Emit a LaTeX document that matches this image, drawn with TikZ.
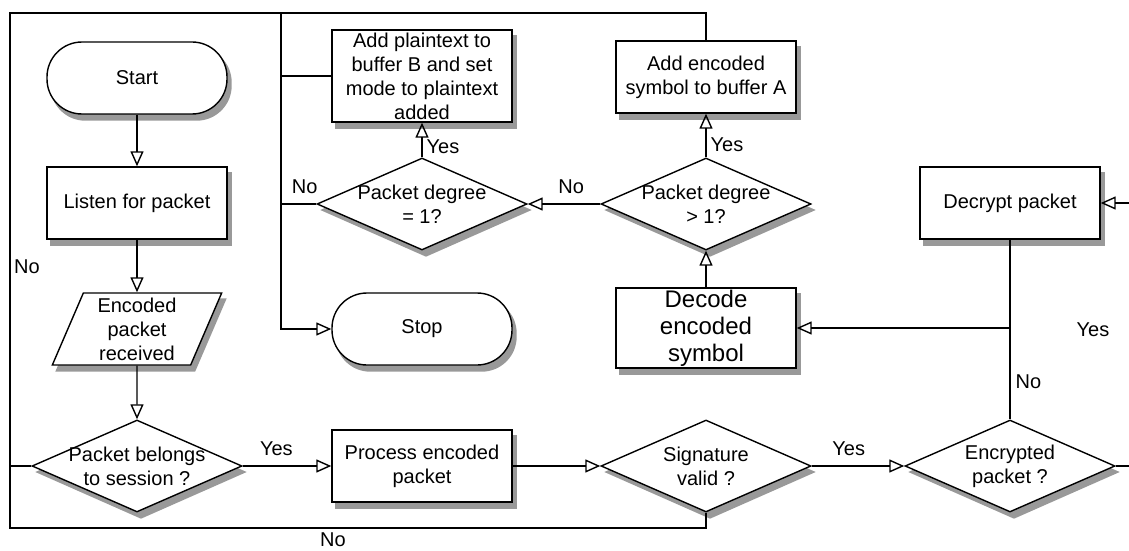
\documentclass[tikz,border=0pt]{standalone}
\usepackage{fontspec}
\setmainfont{Liberation Sans}
\usetikzlibrary{shapes.geometric,arrows.meta,backgrounds}

\begin{document}
\begin{tikzpicture}[x=0.5pt,y=-0.5pt,line width=0.7pt]
\tikzstyle{every node}+=[inner sep=0pt,font=\fontsize{10}{12}\selectfont]
\tikzstyle{box}=[draw,fill=white,minimum width=90pt,minimum height=36pt,align=center]
\tikzstyle{term}=[box,rounded corners=17.5pt]
\tikzstyle{decision}=[diamond,draw,fill=white,minimum width=105pt,minimum height=46pt]
\tikzstyle{io}=[trapezium,trapezium left angle=70,trapezium right angle=110,trapezium stretches=true,draw,fill=white,minimum width=85pt,minimum height=36pt,align=center]
\tikzstyle{arr}=[-{Triangle[open,length=7.5pt,width=6.5pt]}]
\tikzstyle{shadowfill}=[fill=black!40,draw=none]
\useasboundingbox (0,0) rectangle (1129,551);
\node[term] (start) at (137,78) {Start};
\node[box] (listen) at (137,203) {Listen for packet};
\node[io] (recv) at (137,329) {Encoded\\packet\\received};
\node[decision,label={[align=center]center:Packet belongs\\to session ?}] (belong) at (137,466) {};
\node[box] (process) at (422,466) {Process encoded\\packet};
\node[decision,label={[align=center]center:Signature\\valid ?}] (sigvalid) at (706,466) {};
\node[decision,label={[align=center]center:Encrypted\\packet ?}] (encrypted) at (1010,466) {};
\node[box] (decrypt) at (1010,203) {Decrypt packet};
\node[box,minimum height=40pt,font=\fontsize{12}{13.5}\selectfont] (decode) at (706,328) {Decode\\encoded\\symbol};
\node[decision,label={[align=center]center:Packet degree\\> 1?}] (deggt) at (706,204) {};
\node[decision,label={[align=center]center:Packet degree\\= 1?}] (degeq) at (422,204) {};
\node[box] (addenc) at (706,77) {Add encoded\\symbol to buffer A};
\node[box,minimum height=46pt] (addplain) at (422,76) {Add plaintext to\\buffer B and set\\mode to plaintext\\added};
\node[term] (stop) at (422,329) {Stop};
\coordinate (tl) at (10,13);
\coordinate (bl) at (10,528);
\coordinate (tm) at (281,13);
\coordinate (rin) at (1129,203);
\coordinate (rout) at (1129,466);
\draw[arr] (start) -- (listen);
\draw[arr] (listen) -- (recv);
\draw[arr] (recv) -- (belong);
\draw[arr] (belong) -- node[above=5pt,pos=0.38] {Yes} (process);
\draw[arr] (process) -- (sigvalid);
\draw[arr] (sigvalid) -- node[above=5pt,pos=0.4] {Yes} (encrypted);
\draw (encrypted) -- (rout);
\draw[arr] (rin) -- (decrypt);
\draw (decrypt) -- node[right=2.5pt,pos=0.79] {No} (encrypted);
\draw[arr] (decrypt |- decode) -- (decode);
\draw[arr] (decode) -- (deggt);
\draw[arr] (deggt) -- node[right=2pt,pos=0.3] {Yes} (addenc);
\draw[arr] (deggt) -- node[above=5pt,pos=0.4] {No} (degeq);
\draw[arr] (degeq) -- node[right=2pt,pos=0.3] {Yes} (addplain);
\draw (degeq) -- node[above=5pt,pos=0.33] {No} (degeq -| tm);
\draw (sigvalid) |- (bl) -- (tl) -| (addenc);
\draw (belong) -- (belong -| tl);
\draw (addplain) -- (addplain -| tm);
\draw[arr] (tm) |- (stop);
\node (noleft) at (27,267) {No};
\node (nobottom) at (333,540) {No};
\node (yesright) at (1093,330) {Yes};
\begin{scope}[on background layer]
\foreach \n in {listen,process,decrypt,decode,addenc,addplain}
  \fill[shadowfill] ([shift={(4,6)}]\n.north west) rectangle ([shift={(4,6)}]\n.south east);
\foreach \n in {start,stop}
  \fill[shadowfill,rounded corners=17.5pt] ([shift={(4,6)}]\n.north west) rectangle ([shift={(4,6)}]\n.south east);
\foreach \n in {belong,sigvalid,encrypted,deggt,degeq}
  \fill[shadowfill] ([shift={(4,6)}]\n.north) -- ([shift={(4,6)}]\n.east) -- ([shift={(4,6)}]\n.south) -- ([shift={(4,6)}]\n.west) -- cycle;
\fill[shadowfill] ([shift={(4,6)}]recv.top left corner) -- ([shift={(4,6)}]recv.top right corner) -- ([shift={(4,6)}]recv.bottom right corner) -- ([shift={(4,6)}]recv.bottom left corner) -- cycle;
\end{scope}
\end{tikzpicture}
\end{document}
